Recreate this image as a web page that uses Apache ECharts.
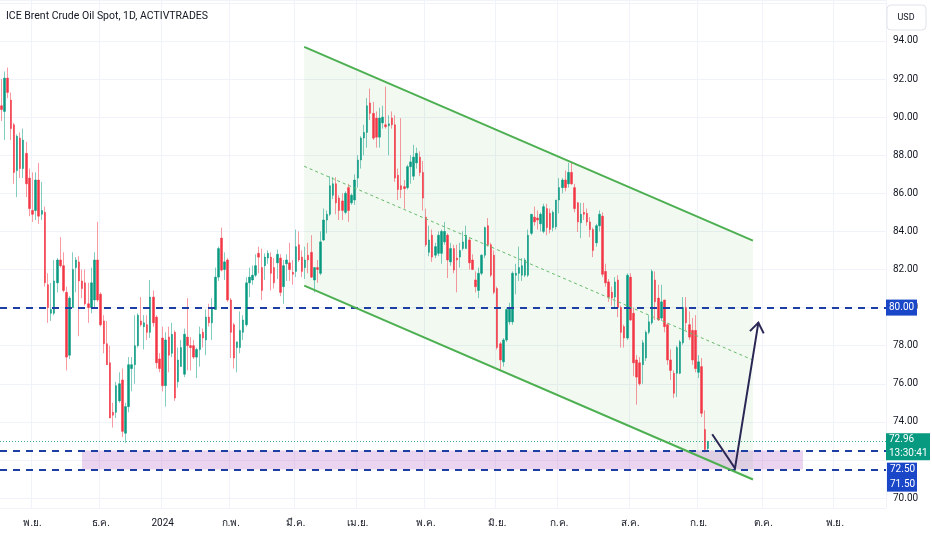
<!DOCTYPE html>
<html><head><meta charset="utf-8">
<script src="https://cdn.jsdelivr.net/npm/echarts@6/dist/echarts.min.js"></script>
<style>html,body{margin:0;padding:0;background:#fff}#c{width:932px;height:550px}</style>
</head><body><div id="c"></div><script>
// ---- daily candles [open, high, low, close], one array per month ----
const oct23 = [[90.6,92.0,89.8,90.4],[90.3,92.4,88.8,92.05],[92.05,92.6,91.0,91.3],[90.9,91.3,88.8,89.4],[89.6,89.7,86.5,87.1],[87.2,89.1,85.8,89.0],[88.9,89.2,86.8,87.3],[87.3,89.4,86.8,88.8],[88.1,88.7,85.8,86.5],[86.8,87.3,84.8,85.2]];
const nov23 = [[85.1,87.1,84.5,84.9],[85.1,87.1,84.6,86.7],[86.7,87.6,84.4,84.8],[84.9,86.6,84.6,85.1],[85.0,85.3,81.1,81.3],[81.2,81.8,79.2,80.0],[79.7,81.3,79.3,79.9],[79.7,82.5,79.6,81.4],[81.3,82.6,80.8,82.5],[82.5,83.7,82.1,82.2],[82.2,82.9,80.8,80.9],[80.8,81.1,76.7,77.4],[77.5,80.6,77.3,80.5],[80.0,82.9,80.0,82.0],[82.1,82.65,80.8,82.5],[82.4,82.7,78.5,81.4],[81.4,82.0,80.5,81.0],[81.3,82.0,80.1,80.2],[80.2,81.3,79.2,80.0],[80.0,82.1,79.7,81.3],[80.4,82.9,80.0,82.5],[82.5,84.5,80.3,80.4]];
const dec23 = [[80.7,80.8,79.0,79.1],[79.3,79.6,77.6,78.1],[78.1,79.3,77.0,77.0],[77.1,78.0,74.2,74.2],[74.5,75.0,73.7,74.35],[74.5,76.1,74.2,75.9],[75.1,76.6,75.0,76.0],[76.2,76.8,73.2,73.5],[73.4,75.0,72.9,74.8],[74.8,77.4,74.5,77.0],[76.8,77.4,75.6,77.0],[77.0,79.6,76.0,78.0],[78.0,79.7,77.9,79.6],[79.3,80.55,79.0,79.1],[79.0,79.6,77.8,79.2],[79.1,79.6,78.3,78.7],[78.7,81.45,78.4,80.55],[80.55,80.9,79.0,79.2],[79.5,79.6,76.8,77.1],[77.3,77.6,76.6,76.8]];
const jan24 = [[78.4,79.0,75.6,75.9],[75.9,78.7,74.8,78.3],[78.45,79.0,76.6,77.5],[77.6,79.2,77.4,78.6],[78.7,78.8,75.1,75.25],[76.1,77.9,75.8,77.25],[76.9,78.3,76.9,77.9],[76.5,78.9,76.35,78.6],[78.45,80.5,76.7,78.0],[78.0,78.45,76.7,77.9],[78.0,78.3,77.3,77.4],[77.4,77.9,76.3,77.8],[77.8,79.0,76.9,78.6],[78.7,78.9,77.9,78.4],[78.3,79.9,77.5,79.5],[79.5,80.2,79.0,79.2],[79.2,80.5,78.3,80.0],[79.9,82.1,79.9,81.6],[81.6,83.2,81.4,83.1],[83.65,84.2,81.9,81.97],[82.0,82.9,81.45,82.4],[82.5,82.6,80.3,80.4]];
const feb24 = [[80.4,80.5,77.35,78.7],[79.1,79.2,76.8,77.35],[77.9,78.2,76.6,78.2],[77.9,79.8,77.6,78.8],[78.7,79.6,78.3,79.35],[79.1,81.6,79.0,81.3],[81.3,82.1,80.55,81.6],[81.45,82.2,81.2,81.7],[81.7,82.8,81.6,82.2],[82.85,83.2,81.8,82.65],[82.1,83.1,80.4,80.9],[82.2,82.85,81.45,82.65],[82.6,83.0,82.3,82.85],[82.65,82.9,80.9,81.8],[82.1,82.6,81.0,81.3],[82.35,83.05,81.5,82.8],[82.6,82.8,80.6,80.8],[81.1,82.5,80.2,82.2],[82.3,82.8,81.4,82.5],[82.35,83.4,81.4,82.0],[81.85,82.5,81.2,81.75]];
const mar24 = [[81.9,84.1,81.6,83.2],[83.3,84.0,82.4,82.5],[82.65,83.0,81.6,81.9],[82.1,83.2,81.5,82.5],[82.75,83.4,81.8,82.5],[82.9,83.8,81.55,81.6],[81.45,82.1,80.8,82.1],[82.1,82.5,81.3,82.0],[81.8,84.0,81.7,83.45],[83.55,85.2,83.5,84.6],[84.6,85.1,83.9,84.9],[84.9,86.9,84.8,86.4],[85.9,86.85,85.7,86.5],[86.5,86.85,84.9,85.5],[85.75,85.9,84.6,85.1],[85.6,86.0,84.6,85.1],[85.0,86.1,84.9,86.0],[86.3,86.5,84.5,85.1],[85.5,86.0,85.4,85.9],[85.65,87.0,85.4,86.7]];
const apr24 = [[86.8,88.0,86.3,87.75],[87.75,89.0,87.3,88.9],[88.9,89.6,88.0,89.2],[89.2,91.0,88.4,90.6],[90.75,91.5,89.85,90.2],[90.2,90.8,88.8,88.9],[89.95,90.3,88.4,88.95],[88.95,90.5,88.4,89.95],[89.7,90.6,89.4,90.0],[89.6,91.6,89.4,89.5],[89.55,90.1,88.0,89.65],[89.95,90.3,89.4,89.6],[89.6,90.1,86.6,86.8],[86.95,87.3,85.65,86.2],[86.4,89.95,85.75,86.2],[86.35,86.7,85.2,86.25],[86.3,87.5,86.2,87.4],[87.4,88.0,86.5,87.65],[86.9,88.55,86.7,87.9],[87.6,88.4,87.3,88.1],[87.9,88.2,86.9,87.1],[87.1,87.7,85.1,85.75]];
const may24 = [[84.75,85.2,83.2,83.3],[82.9,84.3,82.7,83.55],[83.8,84.1,82.4,82.65],[82.75,83.4,82.6,83.2],[82.85,84.0,82.7,83.8],[82.85,84.1,82.3,84.0],[83.45,84.5,83.3,84.0],[83.8,83.9,81.55,82.5],[82.4,83.4,82.2,83.1],[83.1,83.3,81.8,81.97],[82.6,83.3,80.8,82.5],[82.65,83.4,82.1,83.0],[83.1,84.0,83.0,83.45],[83.1,84.3,83.1,83.8],[83.55,83.7,82.0,82.35],[82.5,82.8,81.97,82.0],[81.45,81.9,80.8,81.1],[80.9,82.1,80.5,81.8],[81.8,82.8,81.7,82.75],[82.75,84.25,82.6,84.2],[84.3,84.7,83.2,83.3],[83.3,83.4,81.6,81.7],[82.75,83.0,80.7,80.8]];
const jun24 = [[81.0,81.1,77.8,77.9],[78.1,78.2,76.7,77.25],[77.15,78.4,76.9,78.3],[78.3,80.0,78.2,79.9],[79.25,80.25,79.1,79.98],[79.25,81.9,79.1,81.8],[81.7,82.3,80.7,81.8],[81.8,83.2,81.4,82.1],[81.7,82.6,81.4,82.2],[81.7,82.6,81.6,82.5],[81.7,84.1,81.6,83.8],[83.9,84.9,83.8,84.9],[84.75,85.3,84.3,84.5],[84.7,85.1,84.1,84.6],[84.4,85.0,84.0,84.9],[84.0,85.45,83.9,85.3],[85.2,85.45,83.8,84.2],[84.95,85.2,83.9,84.1],[84.2,85.1,84.0,85.0],[84.25,85.65,84.1,85.65]];
const jul24 = [[85.65,86.8,84.95,86.3],[86.3,86.8,86.0,86.7],[86.7,87.2,86.1,86.3],[86.5,87.6,86.3,87.1],[87.1,87.65,86.45,86.5],[86.3,86.5,85.0,85.2],[85.5,85.55,83.97,84.5],[84.45,85.5,83.65,84.9],[85.0,85.5,84.6,84.9],[84.95,85.2,84.3,84.5],[84.5,84.75,83.7,84.1],[84.1,84.2,82.65,83.0],[83.4,84.4,83.2,84.3],[84.3,85.1,84.0,84.9],[84.8,85.0,81.6,81.75],[81.9,82.3,81.1,81.3],[81.35,81.5,80.3,80.55],[80.8,81.1,80.1,80.5],[80.55,81.6,80.0,81.35],[81.45,81.7,79.5,80.0],[80.0,80.1,77.9,78.7],[79.0,79.1,77.9,78.4],[78.4,81.8,78.3,81.7]];
const aug24 = [[81.6,81.8,79.3,79.35],[79.7,80.0,76.4,77.1],[77.25,77.5,74.9,76.35],[77.1,77.4,75.9,76.0],[77.0,78.3,76.0,78.15],[77.35,78.8,77.2,78.7],[78.7,79.6,78.6,79.25],[79.2,82.0,79.1,81.9],[81.45,81.9,79.35,80.3],[80.5,81.2,79.3,79.35],[79.45,81.2,79.3,80.3],[80.4,80.4,78.7,79.0],[79.1,79.2,77.0,77.25],[77.25,77.8,76.2,76.7],[76.55,76.7,75.25,75.5],[76.55,78.0,75.3,77.9],[76.55,78.3,76.5,78.2],[78.15,80.55,78.05,80.0],[80.0,80.55,78.8,79.2],[79.1,79.8,78.3,78.45],[78.8,79.45,77.0,77.25],[78.8,79.6,76.6,76.8]];
const sep24 = [[76.6,77.5,76.3,77.15],[76.9,77.35,74.25,74.45],[73.6,74.6,72.4,72.55],[72.6,73.0,72.5,72.96]];

// ---- calendar / axis ----
const firstDay = '2023-10-18';
const holidays = ['2023-12-25','2024-01-01','2024-03-29'];
const totalSlots = 286;               // visible trading-day slots incl. empty future space
const thaiMonths = ['ม.ค.','ก.พ.','มี.ค.','เม.ย.','พ.ค.','มิ.ย.','ก.ค.','ส.ค.','ก.ย.','ต.ค.','พ.ย.','ธ.ค.'];
const titleText = 'ICE Brent Crude Oil Spot, 1D, ACTIVTRADES';
const hiddenTicks = [72, 96];         // price-scale ticks covered by the label boxes / header

// ---- drawings (x in bar-index units, y in price) ----
const channelX = [97.7, 242.55];
const channelUpper = [93.69, 83.52];
const channelLower = [81.15, 70.97];
const channelMid = [87.42, 77.245];
const zoneX = [25.97, 258.7];
const zoneY = [71.5, 72.5];
const arrowX = [229.4, 236.75, 244.3];
const arrowY = [73.35, 71.56, 79.21];
const levels = [80.0, 72.5, 71.5];
const lastPrice = 72.96;
const countdown = '13:30:41';

function fmt(d){return d.getUTCFullYear()+'-'+String(d.getUTCMonth()+1).padStart(2,'0')+'-'+String(d.getUTCDate()).padStart(2,'0');}
function tradingDays(start,n){const out=[];const d=new Date(start+'T00:00:00Z');while(out.length<n){const wd=d.getUTCDay();const s=fmt(d);if(wd!==0&&wd!==6&&holidays.indexOf(s)<0)out.push(s);d.setUTCDate(d.getUTCDate()+1);}return out;}
const dates = tradingDays(firstDay,totalSlots);
const candles = [].concat(oct23,nov23,dec23,jan24,feb24,mar24,apr24,may24,jun24,jul24,aug24,sep24);
const monthStart = dates.map((d,i)=> i>0 && d.slice(0,7)!==dates[i-1].slice(0,7));
const isStart = (i)=> monthStart[i];

const wickData = candles.map(c=>[c[0],c[3],c[2],c[1]]);
const bodyData = candles.map(c=>[c[0],c[3],Math.min(c[0],c[3]),Math.max(c[0],c[3])]);

const FONT = 'Roboto, "Noto Sans", sans-serif';
const UP='#089981', DOWN='#F23645', BLUE_LINE='#1d3fa3', BLUE_BOX='#1a46c8';

const chart = echarts.init(document.getElementById('c'),null,{renderer:'canvas'});
const option = {
  animation:false,
  backgroundColor:'#ffffff',
  textStyle:{fontFamily:FONT},
  grid:{left:0,right:46,top:0,bottom:42},
  xAxis:[{
    type:'category',data:dates,boundaryGap:true,
    axisLine:{show:false},axisTick:{show:false},
    axisLabel:{interval:isStart,fontSize:10,color:'#131722',margin:10,fontFamily:FONT,
      formatter:(v)=>{const m=+v.slice(5,7);return m===1?v.slice(0,4):thaiMonths[m-1];}},
    splitLine:{show:true,interval:isStart,lineStyle:{color:'#f0f3fa',width:1}}
  },{type:'value',min:-0.5,max:totalSlots-0.5,show:false}],
  yAxis:{type:'value',position:'right',min:69.475,max:96.153,splitNumber:13,
    axisLine:{show:false},axisTick:{show:false},
    axisLabel:{formatter:(v)=> hiddenTicks.some(t=>Math.abs(t-v)<1e-6) ? '' : v.toFixed(2),showMinLabel:false,showMaxLabel:false,margin:7,fontSize:10,color:'#131722',fontFamily:FONT},
    splitLine:{lineStyle:{color:'#f0f3fa',width:1}}},
  series:[
    {type:'custom',xAxisIndex:1,yAxisIndex:0,z:1,silent:true,clip:false,data:[[0,80]],
     renderItem:(p,api)=>{
       const P=(x,y)=>api.coord([x,y]);
       const a=P(channelX[0],channelUpper[0]),b=P(channelX[1],channelUpper[1]),c=P(channelX[1],channelLower[1]),d=P(channelX[0],channelLower[0]);
       const z1=P(zoneX[0],zoneY[1]),z2=P(zoneX[1],zoneY[0]);
       return {type:'group',children:[
         {type:'polygon',shape:{points:[a,b,c,d]},style:{fill:'rgba(76,175,80,0.08)'}},
         {type:'rect',shape:{x:z1[0],y:z1[1],width:z2[0]-z1[0],height:z2[1]-z1[1]},style:{fill:'rgba(156,39,176,0.2)'}}
       ]};
     }},
    {type:'candlestick',name:'wick',xAxisIndex:0,z:2,barWidth:1,data:wickData,silent:true,
     itemStyle:{color:'rgba(8,153,129,0.5)',color0:'rgba(242,54,69,0.5)',borderColor:'rgba(8,153,129,0.5)',borderColor0:'rgba(242,54,69,0.5)',borderWidth:1}},
    {type:'candlestick',name:'body',xAxisIndex:0,z:3,barWidth:2,data:bodyData,silent:true,
     itemStyle:{color:UP,color0:DOWN,borderColor:UP,borderColor0:DOWN,borderWidth:0.5},
     markLine:{silent:true,symbol:['none','none'],label:{show:false},
       data:[
         {yAxis:lastPrice,lineStyle:{color:'rgba(8,153,129,0.8)',type:[1,2],width:1}},
         ...levels.map(v=>({yAxis:v,lineStyle:{color:BLUE_LINE,type:[7,6],width:2}}))
       ]}},
    {type:'custom',xAxisIndex:1,yAxisIndex:0,z:5,silent:true,clip:false,data:[[0,80]],
     renderItem:(p,api)=>{
       const P=(x,y)=>api.coord([x,y]);
       const seg=(xs,ys,style)=>{const s=P(xs[0],ys[0]),e=P(xs[1],ys[1]);return {type:'line',shape:{x1:s[0],y1:s[1],x2:e[0],y2:e[1]},style};};
       const children=[
         seg(channelX,channelUpper,{stroke:'#4caf50',lineWidth:2}),
         seg(channelX,channelLower,{stroke:'#4caf50',lineWidth:2}),
         seg(channelX,channelMid,{stroke:'#66bb6a',lineWidth:1,lineDash:[3,3]})
       ];
       const pts=arrowX.map((x,i)=>P(x,arrowY[i]));
       children.push({type:'polyline',shape:{points:pts},style:{stroke:'#2b2755',lineWidth:2,fill:null}});
       const tip=pts[pts.length-1],prev=pts[pts.length-2];
       const dx=prev[0]-tip[0],dy=prev[1]-tip[1],L=Math.hypot(dx,dy),ux=dx/L,uy=dy/L,len=12,ang=0.62;
       const w1=[tip[0]+len*(ux*Math.cos(ang)-uy*Math.sin(ang)),tip[1]+len*(ux*Math.sin(ang)+uy*Math.cos(ang))];
       const w2=[tip[0]+len*(ux*Math.cos(-ang)-uy*Math.sin(-ang)),tip[1]+len*(ux*Math.sin(-ang)+uy*Math.cos(-ang))];
       children.push({type:'polyline',shape:{points:[w1,tip,w2]},style:{stroke:'#2b2755',lineWidth:2,fill:null}});
       return {type:'group',children};
     }}
  ]
};
chart.setOption(option);

// price-scale labels and header
const yp=(v)=>chart.convertToPixel({yAxisIndex:0},v);
const g=[];
const Z=100;
g.push({type:'text',z:Z,left:6,top:11,style:{text:titleText,fontSize:10.5,fill:'#131722',fontFamily:FONT}});
g.push({type:'rect',z:Z,shape:{x:887,y:5,width:39,height:25,r:4},style:{fill:'#fff',stroke:'#e0e3eb',lineWidth:1}});
g.push({type:'text',z:Z+1,x:906,y:17.5,style:{text:'USD',fontSize:9,fill:'#131722',align:'center',verticalAlign:'middle',fontFamily:FONT}});
function box(x,y,w,h,color,lines){
  g.push({type:'rect',z:Z,shape:{x:x,y:y,width:w,height:h},style:{fill:color}});
  lines.forEach((t,i)=>g.push({type:'text',z:Z+1,x:x+3,y:y+h/lines.length*(i+0.5),style:{text:t,fontSize:10,fill:'#fff',verticalAlign:'middle',fontFamily:FONT}}));
}
box(886,yp(levels[0])-8,31,16,BLUE_BOX,[levels[0].toFixed(2)]);
const gy=yp(lastPrice)-8.5;
box(886,gy,44,27,UP,[lastPrice.toFixed(2),countdown]);
box(887,gy+29.5,30,29,BLUE_BOX,[levels[1].toFixed(2),levels[2].toFixed(2)]);
chart.setOption({graphic:g});
</script></body></html>
